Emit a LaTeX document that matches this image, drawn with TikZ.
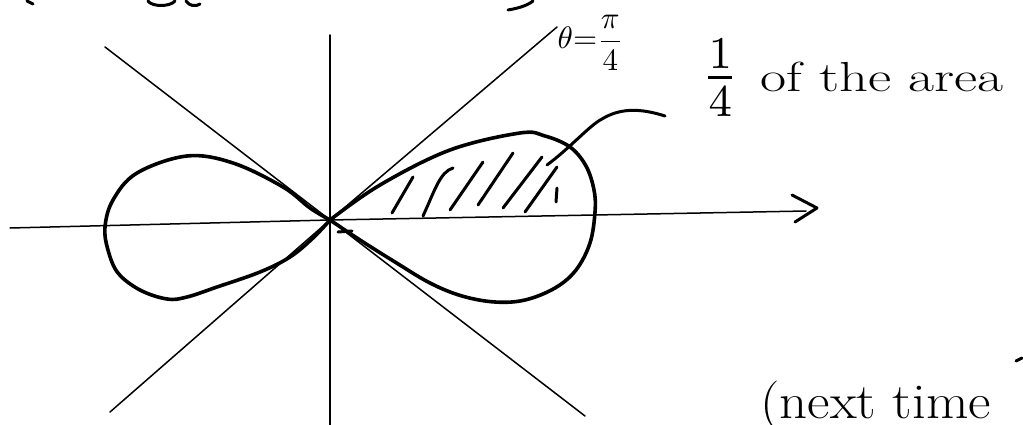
\documentclass[tikz,border=0pt]{standalone}
\usepackage{amsmath}
\begin{document}
\begin{tikzpicture}[x=1pt,y=-1pt,
  axisline/.style={line width=1.5pt, line cap=round},
  curve/.style={line width=3.6pt, line cap=round, line join=round},
  ink/.style={line width=3pt, line cap=round, line join=round},
  hand/.style={inner sep=0pt, anchor=base west}]
\useasboundingbox (0,0) rectangle (1023,425);
\clip (0,0) rectangle (1023,425);
\coordinate (O) at (330,220);
% axes
\draw[axisline] (10,228) -- (O) -- (806,211);
\draw[ink] (792,195) -- (817,208) -- (795,222);
\draw[axisline] (330,35) -- (330,425);
% diagonals
\draw[axisline] (105,47) -- (O) -- (585,416);
\draw[axisline] (557,27) -- (O) -- (110,412);
% lemniscate left lobe
\draw[curve] plot[smooth, tension=0.6] coordinates {
 (O) (310,208) (283,187) (233,163) (187,156) (137,173) (113,200) (105,227)
 (108,250) (118,273) (140,290) (167,299) (187,297) (217,287) (260,272)
 (290,257) (313,238) (O)};
% lemniscate right lobe
\draw[curve] plot[smooth, tension=0.6] coordinates {
 (O) (380,185) (450,150) (520,133) (545,136) (570,147) (586,166) (594,190)
 (595,212) (590,243) (576,270) (555,288) (525,300) (495,302) (462,296)
 (430,283) (395,262) (360,240) (O)};
% hatch
\draw[ink] (392,213) -- (413,177);
\draw[ink] (423,216) .. controls (435,190) and (440,172) .. (453,168);
\draw[ink] (450,210) -- (483,162);
\draw[ink] (478,205) -- (513,153);
\draw[ink] (503,208) -- (542,157);
\draw[ink] (525,212) -- (557,167);
\draw[ink] (557,188) -- (556,202);
\draw[ink] (338,232) -- (352,231);
% labels
\node[hand, scale=3.1] (theta) at (557,49) {$\theta{=}\dfrac{\pi}{4}$};
\node[hand, xscale=6, yscale=6.5] (frac) at (700,94) {$\frac{1}{4}$};
\node[hand, xscale=1.35] (quarter) at (760,92) {\fontsize{42}{48}\selectfont of the area};
\draw[ink] (547,165) .. controls (570,148) and (590,125) .. (602,119)
  .. controls (620,108) and (640,108) .. (665,116);
\node[hand, xscale=1.1] (next) at (760,418) {\fontsize{50}{56}\selectfont (next time};
% cut-off strokes at the edges
\draw[ink] (27,1) -- (33,4);
\draw[ink] (148,1) .. controls (152,7) and (170,7) .. (175,1);
\draw[ink] (186,1) .. controls (189,6) and (196,7) .. (200,4);
\draw[ink] (508,10) .. controls (520,8) and (528,5) .. (533,1);
\draw[ink] (1016,361) -- (1022,358);
\end{tikzpicture}
\end{document}
